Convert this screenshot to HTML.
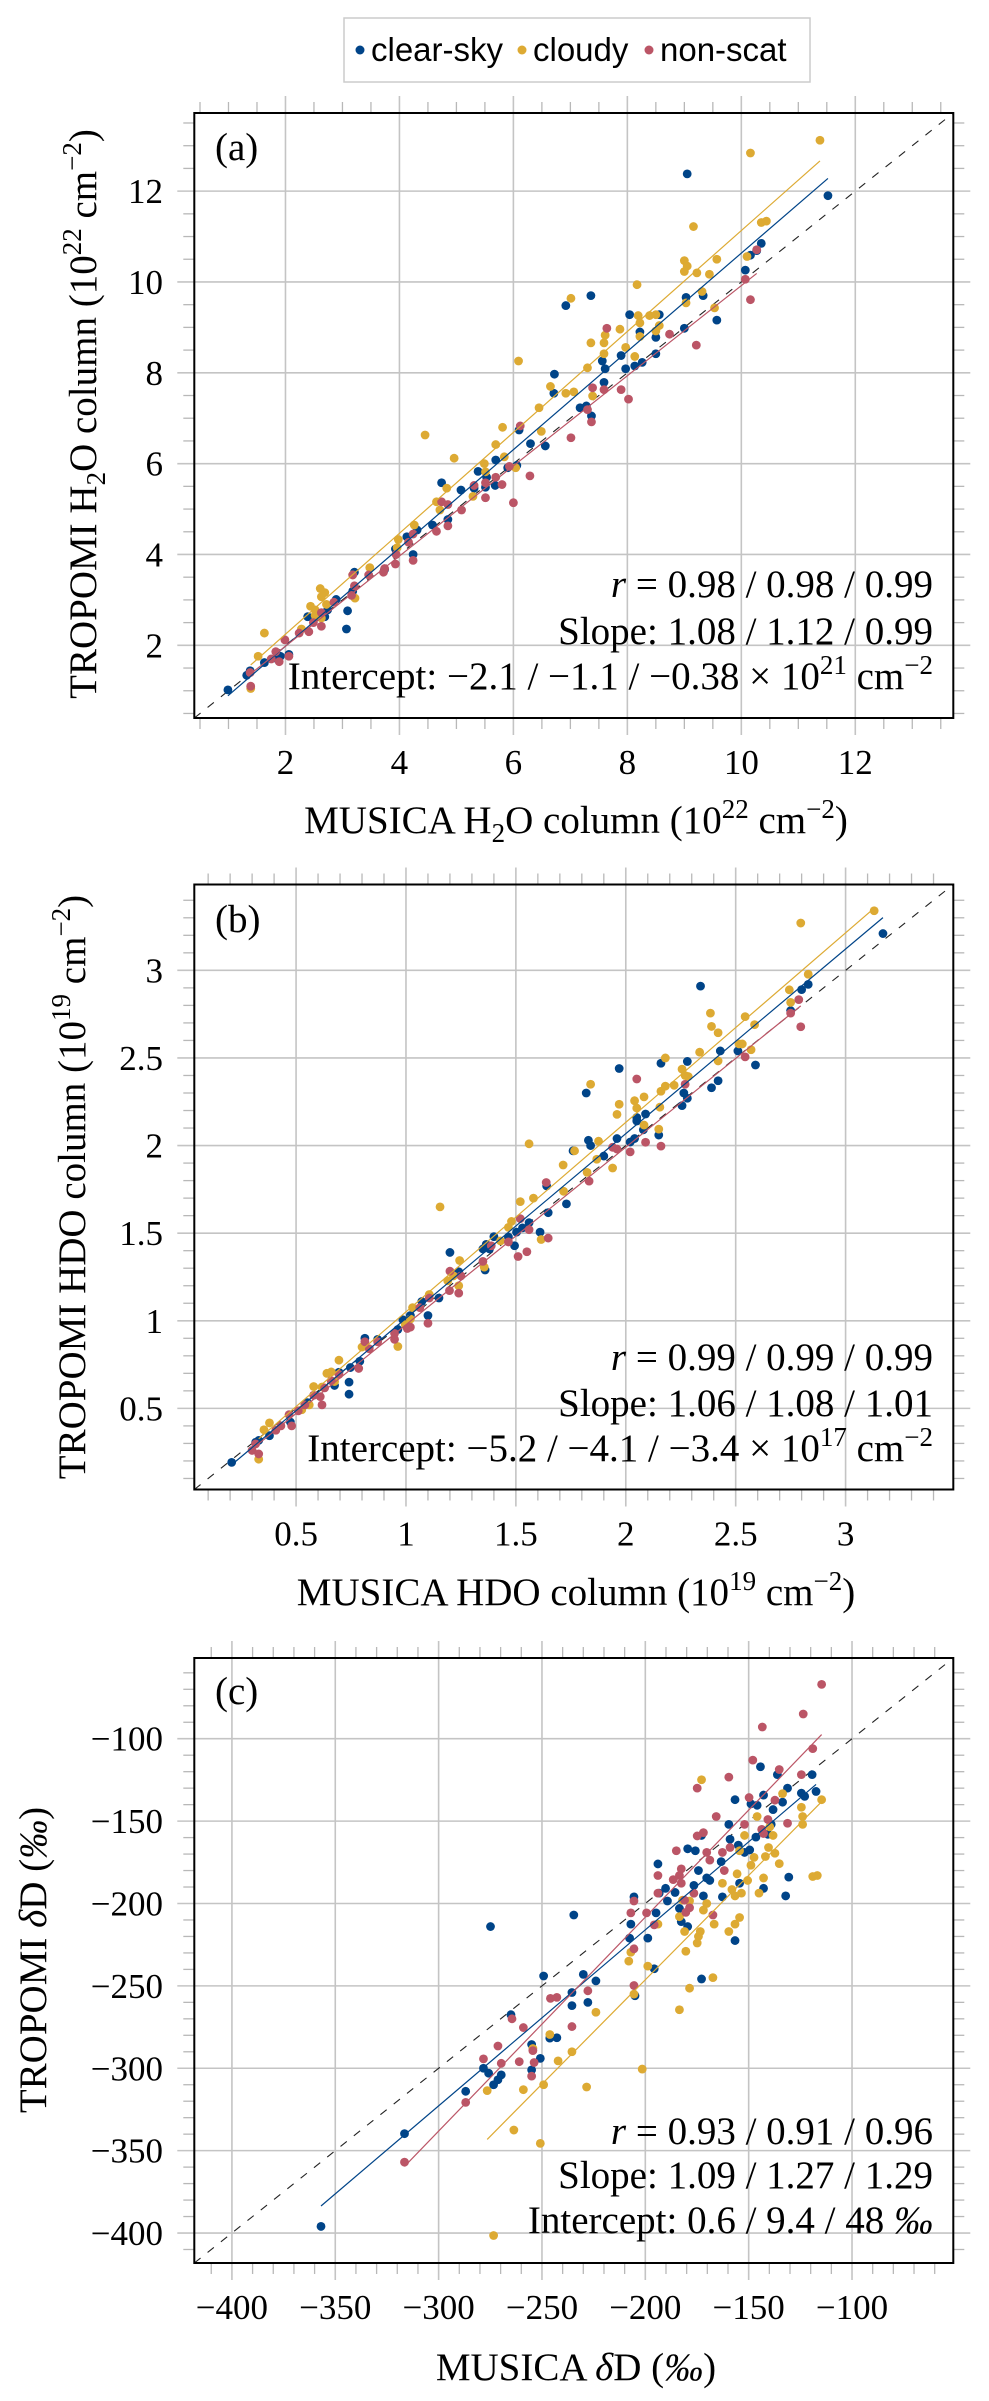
<!DOCTYPE html>
<html><head><meta charset="utf-8"><style>
html,body{margin:0;padding:0;background:#fff;}
svg{display:block;}
text{font-family:"Liberation Serif",serif;fill:#000;}
.tick{font-size:35px;}
.ttl{font-size:39px;}
.ann{font-size:39px;}
.leg{font-family:"Liberation Sans",sans-serif;font-size:33px;}
</style></head><body>
<svg id="fig" width="989" height="2401" viewBox="0 0 989 2401" xmlns="http://www.w3.org/2000/svg">
<g>
<rect x="344" y="18" width="466" height="64" fill="#fff" stroke="#cccccc" stroke-width="1.5"/>
<g><circle cx="360" cy="50" r="4.5" fill="#004488"/><text class="leg" x="371" y="61">clear-sky</text></g>
<g><circle cx="522" cy="50" r="4.5" fill="#DDAA33"/><text class="leg" x="533" y="61">cloudy</text></g>
<g><circle cx="649" cy="50" r="4.5" fill="#BB5566"/><text class="leg" x="660" y="61">non-scat</text></g>
</g>
<g id="pa"></g>
<g id="pb"></g>
<g id="pc"></g>

<!-- panel a -->
<text class="ann" x="215" y="160">(a)</text>
<text class="ann" x="933" y="597" text-anchor="end"><tspan font-style="italic">r</tspan> = 0.98 / 0.98 / 0.99</text>
<text class="ann" x="933" y="644" text-anchor="end">Slope: 1.08 / 1.12 / 0.99</text>
<text class="ann" x="933" y="689" text-anchor="end">Intercept: −2.1 / −1.1 / −0.38 × 10<tspan font-size="27" dy="-15">21</tspan><tspan dy="15"> cm</tspan><tspan font-size="27" dy="-15">−2</tspan></text>
<text class="ttl" x="576" y="833" text-anchor="middle">MUSICA H<tspan font-size="27" dy="9">2</tspan><tspan dy="-9">O column (10</tspan><tspan font-size="27" dy="-15">22</tspan><tspan dy="15"> cm</tspan><tspan font-size="27" dy="-15">−2</tspan><tspan dy="15">)</tspan></text>
<text class="ttl" transform="translate(96,414) rotate(-90)" text-anchor="middle">TROPOMI H<tspan font-size="27" dy="9">2</tspan><tspan dy="-9">O column (10</tspan><tspan font-size="27" dy="-15">22</tspan><tspan dy="15"> cm</tspan><tspan font-size="27" dy="-15">−2</tspan><tspan dy="15">)</tspan></text>

<!-- panel b -->
<text class="ann" x="215" y="932">(b)</text>
<text class="ann" x="933" y="1370" text-anchor="end"><tspan font-style="italic">r</tspan> = 0.99 / 0.99 / 0.99</text>
<text class="ann" x="933" y="1416" text-anchor="end">Slope: 1.06 / 1.08 / 1.01</text>
<text class="ann" x="933" y="1461" text-anchor="end">Intercept: −5.2 / −4.1 / −3.4 × 10<tspan font-size="27" dy="-15">17</tspan><tspan dy="15"> cm</tspan><tspan font-size="27" dy="-15">−2</tspan></text>
<text class="ttl" x="576" y="1605" text-anchor="middle">MUSICA HDO column (10<tspan font-size="27" dy="-15">19</tspan><tspan dy="15"> cm</tspan><tspan font-size="27" dy="-15">−2</tspan><tspan dy="15">)</tspan></text>
<text class="ttl" transform="translate(85,1187) rotate(-90)" text-anchor="middle">TROPOMI HDO column (10<tspan font-size="27" dy="-15">19</tspan><tspan dy="15"> cm</tspan><tspan font-size="27" dy="-15">−2</tspan><tspan dy="15">)</tspan></text>

<!-- panel c -->
<text class="ann" x="215" y="1704">(c)</text>
<text class="ann" x="933" y="2144" text-anchor="end"><tspan font-style="italic">r</tspan> = 0.93 / 0.91 / 0.96</text>
<text class="ann" x="933" y="2188" text-anchor="end">Slope: 1.09 / 1.27 / 1.29</text>
<text class="ann" x="933" y="2233" text-anchor="end">Intercept: 0.6 / 9.4 / 48 <tspan font-style="italic">‰</tspan></text>
<text class="ttl" x="576" y="2380" text-anchor="middle">MUSICA <tspan font-style="italic">δ</tspan>D (<tspan font-style="italic">‰</tspan>)</text>
<text class="ttl" transform="translate(46,1960) rotate(-90)" text-anchor="middle">TROPOMI <tspan font-style="italic">δ</tspan>D (<tspan font-style="italic">‰</tspan>)</text>
</svg>
<script>
// ---------- Panel (a) H2O data ----------
const aClearX=[0.99,1.32,1.38,1.63,1.86,1.91,2.06,2.39,2.69,2.74,2.89,3.09,3.07,3.18,3.21,3.74,3.93,4.24,4.13,4.31,4.58,4.74,4.85,5.08,5.31,5.38,5.51,5.69,5.53,5.68,5.9,6.06,6.1,6.3,6.56,6.72,6.71,6.92,7.17,7.28,7.36,7.37,7.56,7.59,7.61,7.89,7.97,8.04,8.13,8.22,8.26,8.5,8.5,8.56,9.0,9.03,9.05,9.33,9.57,10.07,10.16,10.27,10.35,11.52];
const aClearY=[1.02,1.34,1.44,1.62,1.70,1.76,1.8,2.63,2.63,2.78,3.01,2.76,2.36,3.19,3.61,3.67,4.12,4.0,4.39,4.54,4.65,5.58,4.77,5.42,5.46,5.83,5.48,6.08,5.70,5.52,5.91,5.96,6.74,6.44,6.39,7.97,7.55,9.48,7.23,7.27,9.70,7.05,8.26,7.79,8.09,8.38,8.09,9.28,8.15,8.9,8.23,8.42,8.78,9.28,8.98,9.66,12.38,9.70,9.16,10.26,10.59,10.69,10.85,11.9];
const aCloudX=[1.39,1.52,1.63,2.28,2.44,2.52,2.61,2.63,2.69,2.72,2.63,2.52,3.18,3.22,3.48,3.98,3.96,4.26,4.45,4.65,4.71,4.83,4.96,5.29,5.49,5.51,5.69,5.81,5.84,6.04,6.09,6.49,6.45,6.65,6.92,7.01,7.06,7.30,7.36,7.39,7.59,7.61,7.59,7.87,7.97,8.13,8.17,8.19,8.22,8.22,8.39,8.5,8.5,8.56,9.0,9.0,9.05,9.03,9.16,9.22,9.31,9.44,9.53,9.57,10.1,10.16,10.35,10.44,11.38];
const aCloudY=[1.05,1.76,2.27,2.36,2.86,2.78,3.25,3.07,3.16,2.9,2.6,2.66,3.55,3.04,3.71,4.33,4.15,4.65,6.63,5.16,4.98,5.46,6.12,5.28,6.0,5.82,6.42,6.8,6.15,5.91,8.26,6.71,7.23,7.70,7.55,9.64,7.58,8.11,8.66,7.49,8.66,8.83,8.42,8.96,8.56,8.36,9.94,9.26,9.1,8.8,9.26,9.28,8.92,9.04,10.47,10.23,10.35,9.54,11.22,10.2,9.79,10.17,9.43,10.5,10.56,12.84,11.31,11.34,13.12];
const aNonX=[1.38,1.39,1.75,1.83,1.89,1.99,2.06,2.24,2.41,2.49,2.63,2.63,2.85,3.16,3.21,3.18,3.46,3.72,3.74,3.93,3.94,4.16,4.24,4.24,4.65,4.74,4.85,4.85,5.09,5.31,5.51,5.51,5.69,5.80,5.93,6.0,6.12,6.29,7.01,7.30,7.39,7.37,7.59,7.64,7.89,8.02,8.74,9.21,10.07,10.16,10.27];
const aNonY=[1.4,1.1,1.70,1.86,1.64,2.12,1.76,2.27,2.3,2.5,2.42,2.72,2.95,3.1,3.31,3.55,3.55,3.61,3.69,3.79,4.0,4.27,4.45,3.87,4.51,5.16,5.1,4.63,4.98,5.52,5.25,5.58,5.70,5.54,5.94,5.14,6.83,5.73,6.57,7.19,7.67,6.92,7.63,8.98,7.63,7.42,8.85,8.61,10.06,9.61,10.71];
const aTicks=[2,4,6,8,10,12];
const aTickLabels=["2","4","6","8","10","12"];

// ---------- Panel (b) HDO data ----------
const bClearX=[0.207,0.316,0.33,0.379,0.474,0.552,0.675,0.695,0.741,0.741,0.747,0.79,0.813,0.871,0.963,0.986,1.02,1.072,1.1,1.15,1.2,1.24,1.35,1.365,1.38,1.40,1.36,1.466,1.494,1.503,1.53,1.56,1.61,1.647,1.64,1.73,1.76,1.82,1.83,1.84,1.9,1.96,1.97,2.02,2.04,2.05,2.05,2.08,2.09,2.15,2.16,2.256,2.264,2.28,2.28,2.34,2.39,2.42,2.43,2.51,2.59,2.75,2.8,2.83,3.17];
const bClearY=[0.192,0.306,0.317,0.344,0.422,0.533,0.631,0.706,0.65,0.581,0.733,0.769,0.9,0.894,0.95,1.006,1.03,1.11,1.03,1.13,1.39,1.28,1.41,1.436,1.41,1.48,1.29,1.478,1.428,1.506,1.53,1.56,1.506,1.617,1.77,1.667,1.97,2.3,2.03,2.0,1.94,2.04,2.44,2.02,2.04,2.14,2.16,2.09,2.18,2.06,2.47,2.228,2.3,2.27,2.48,2.91,2.33,2.37,2.54,2.54,2.46,2.77,2.89,2.92,3.21];
const bCloudX=[0.33,0.354,0.379,0.526,0.56,0.58,0.618,0.64,0.66,0.675,0.695,0.8,0.963,0.997,1.03,1.02,1.106,1.155,1.19,1.216,1.244,1.24,1.356,1.43,1.466,1.48,1.52,1.56,1.58,1.615,1.715,1.717,1.767,1.824,1.84,1.868,1.876,1.94,1.96,1.97,2.04,2.05,2.083,2.083,2.15,2.155,2.16,2.18,2.18,2.22,2.256,2.27,2.284,2.336,2.385,2.39,2.42,2.42,2.515,2.53,2.543,2.57,2.586,2.744,2.75,2.796,2.83,3.13];
const bCloudY=[0.21,0.378,0.417,0.492,0.52,0.625,0.622,0.7,0.708,0.653,0.775,0.85,0.853,0.978,1.075,1.01,1.15,1.65,1.228,1.256,1.344,1.2,1.306,1.456,1.533,1.567,1.68,2.01,1.70,1.464,1.889,1.739,1.97,1.847,2.35,1.922,2.025,1.872,2.178,2.236,2.256,2.214,2.117,2.278,2.094,2.219,2.31,2.5,2.339,2.344,2.436,2.4,2.394,2.533,2.756,2.68,2.644,2.483,2.58,2.58,2.736,2.547,2.69,2.889,2.817,3.27,2.978,3.34];
const bNonX=[0.30,0.316,0.33,0.408,0.431,0.468,0.48,0.51,0.54,0.58,0.61,0.618,0.63,0.66,0.695,0.785,0.813,0.833,0.871,0.948,0.948,1.006,1.02,1.063,1.1,1.106,1.198,1.2,1.24,1.25,1.35,1.388,1.466,1.51,1.52,1.55,1.56,1.638,1.647,1.833,1.94,1.96,2.02,2.05,2.09,2.16,2.27,2.543,2.75,2.787,2.796];
const bNonY=[0.26,0.297,0.24,0.375,0.4,0.464,0.4,0.486,0.52,0.575,0.567,0.52,0.617,0.658,0.694,0.728,0.88,0.84,0.88,0.928,0.894,0.956,0.964,1.075,0.986,1.13,1.172,1.283,1.158,1.256,1.339,1.428,1.45,1.367,1.583,1.394,1.52,1.789,1.472,1.797,1.99,1.98,1.964,2.38,2.019,1.997,2.35,2.506,2.756,2.833,2.678];
const bTicks=[0.5,1,1.5,2,2.5,3];
const bTickLabels=["0.5","1","1.5","2","2.5","3"];

// ---------- Panel (c) deltaD data ----------
const cClearX=[-356.9,-316.5,-286.9,-278.3,-275.8,-273.4,-271.3,-269.7,-274.9,-265,-255,-255,-250.8,-249.2,-246.2,-242.8,-235.5,-235.5,-234.6,-230,-227.8,-223.9,-207.6,-207,-205.5,-205,-198.8,-195.7,-194.8,-193.9,-193.3,-190.2,-189.3,-185.6,-183.5,-182.6,-179.5,-179.5,-176.5,-175.8,-174.3,-172.8,-172.8,-171.9,-170.3,-168.8,-163.3,-162.7,-159.6,-159,-156.6,-156.6,-155,-154.4,-152,-149.5,-148.9,-146.5,-145.9,-144.3,-142.8,-142.8,-140.7,-139.1,-138.2,-136.1,-133.6,-131.2,-132.1,-130.6,-124.5,-122.9,-119.3,-117.4];
const cClearY=[-396,-339.7,-314,-300,-303,-310,-307,-304,-214,-267.5,-285.6,-301,-294,-244,-281.7,-281.5,-254,-262,-207,-243,-260,-247,-221,-212.5,-196,-256,-221,-239.6,-205.7,-176,-193.7,-190.8,-198.5,-193.3,-203,-211,-166.8,-214,-189,-168,-180,-158.7,-245.8,-195.4,-184.5,-186,-174.6,-196,-152,-161,-137,-222.5,-164.6,-187.7,-169,-167.5,-139.5,-159.7,-140.4,-117,-134.2,-190.8,-158,-152,-143,-121.8,-138.5,-130,-195.4,-184,-133,-135,-121.8,-132];
const cCloudX=[-273.4,-276.5,-263.6,-259,-254.4,-250.8,-249.2,-246.2,-242.2,-235.5,-228.4,-223.9,-208,-207,-205.5,-201.5,-198.8,-193.9,-183.5,-182,-181,-180.4,-178.6,-178.6,-183.5,-174.9,-174.3,-173.4,-172.8,-171.9,-170.3,-167.3,-166.7,-162.7,-159.6,-158.1,-156.6,-156.6,-155.6,-154.4,-153.5,-154.4,-152,-150.5,-148.9,-147.4,-145.9,-145,-142.8,-141.9,-140.4,-139.8,-138.2,-137.3,-135.2,-133.6,-124.5,-123.9,-123.9,-119,-116.8,-114.7];
const cCloudY=[-401.5,-313.6,-337.5,-313,-288,-345.6,-310,-279.5,-295.5,-290,-311.4,-266,-235,-229.6,-255,-300.5,-238,-212.5,-208,-198,-217,-229,-251.4,-198.5,-264.5,-224,-220,-217,-124.9,-204,-200,-245,-212.5,-187.7,-217,-191.5,-195.4,-212.5,-182,-208.5,-193.7,-168,-158.7,-186,-176.8,-172,-147.2,-193.7,-184.5,-171.5,-166,-153.5,-158.7,-169.5,-175.8,-133.3,-141.6,-147.2,-152,-183.6,-183,-137];
const cNonX=[-316.5,-286.9,-278.3,-271.3,-269.7,-264.5,-259,-255,-254.4,-253.8,-261,-245.9,-242.8,-235.5,-227.8,-205.5,-205.5,-205.5,-207,-199.4,-195.7,-193.9,-193.9,-186.5,-185,-183.5,-182.6,-182.6,-181,-180.4,-178.6,-176.5,-174.9,-174.9,-171.9,-170.3,-168.8,-167.3,-165.7,-162.7,-161.8,-159.6,-159,-152,-149.8,-148,-143.7,-142.8,-143.4,-140.7,-137.3,-135.2,-131.2,-124.5,-123.6,-119,-114.7];
const cNonY=[-357,-320.7,-294.3,-286.5,-297,-270,-275.3,-304.8,-289.3,-296.5,-296,-257.6,-257,-274.7,-253,-227.5,-249.8,-198.5,-205.7,-205.7,-213,-193.7,-183,-185.5,-168,-183,-179,-187.7,-198,-205.4,-202.6,-193.8,-130,-159,-157,-169,-173.7,-207,-147.2,-169,-180,-123.3,-166,-152,-135.7,-113,-155,-157.5,-92.9,-149,-137.3,-118.7,-151.3,-121.8,-85,-106,-67];
const cTicks=[-400,-350,-300,-250,-200,-150,-100];
const cTickLabels=["−400","−350","−300","−250","−200","−150","−100"];

const COL={clear:"#004488",cloudy:"#DDAA33",non:"#BB5566"};
const NS="http://www.w3.org/2000/svg";
function mk(tag,attrs,parent){const e=document.createElementNS(NS,tag);for(const k in attrs)e.setAttribute(k,attrs[k]);parent.appendChild(e);return e;}

function drawPanel(g,cfg){
  const L=194.3,R=953.3,T=cfg.top,B=cfg.top+605;
  const sx=v=>L+(v-cfg.min)/(cfg.max-cfg.min)*(R-L);
  const sy=v=>B-(v-cfg.min)/(cfg.max-cfg.min)*(B-T);
  const start=Math.ceil(cfg.min/cfg.minor-1e-9);
  for(let i=start;i*cfg.minor<=cfg.max+1e-9;i++){
    const v=i*cfg.minor;
    if(cfg.ticks.some(t=>Math.abs(t-v)<1e-6))continue;
    const X=sx(v),Y=sy(v);
    let e;
    e=mk('line',{x1:X,x2:X,y1:T-11,y2:T,stroke:'#b8b8b8','stroke-width':1.3},g);
    
    
    mk('line',{x1:X,x2:X,y1:B,y2:B+11,stroke:'#b8b8b8','stroke-width':1.3},g);
    mk('line',{x1:L-11,x2:L,y1:Y,y2:Y,stroke:'#b8b8b8','stroke-width':1.3},g);
    mk('line',{x1:R,x2:R+11,y1:Y,y2:Y,stroke:'#b8b8b8','stroke-width':1.3},g);
  }
  cfg.ticks.forEach((t,i)=>{
    const X=sx(t),Y=sy(t);
    const gx=mk('line',{x1:X,x2:X,y1:T-17,y2:B+17,stroke:'#c4c4c4','stroke-width':1.6},g);
    
    
    const gy=mk('line',{x1:L-17,x2:R+17,y1:Y,y2:Y,stroke:'#c4c4c4','stroke-width':1.6},g);
    
    
    const tx=mk('text',{x:X,y:B+56,'text-anchor':'middle','class':'tick'},g);
    tx.textContent=cfg.labels[i];
    
    
    const ty=mk('text',{x:163,y:Y+12,'text-anchor':'end','class':'tick'},g);
    ty.textContent=cfg.labels[i];
    
    
  });
  const d=mk('line',{x1:sx(cfg.min),y1:sy(cfg.min),x2:sx(cfg.max),y2:sy(cfg.max),stroke:'#222','stroke-width':1.1,'stroke-dasharray':'8 9'},g);
  
  
  cfg.series.forEach(s=>{
    s.x.forEach((xv,i)=>{
      const c=mk('circle',{cx:sx(xv),cy:sy(s.y[i]),r:4.4,fill:s.color},g);
      
      
    });
  });
  cfg.series.forEach(s=>{
    const n=s.x.length;let mx=0,my=0;
    for(let i=0;i<n;i++){mx+=s.x[i];my+=s.y[i];}mx/=n;my/=n;
    let sxy=0,sxx=0;for(let i=0;i<n;i++){sxy+=(s.x[i]-mx)*(s.y[i]-my);sxx+=(s.x[i]-mx)**2;}
    const b=sxy/sxx,a=my-b*mx;
    const x0=Math.min(...s.x),x1=Math.max(...s.x);
    const l=mk('line',{x1:sx(x0),y1:sy(a+b*x0),x2:sx(x1),y2:sy(a+b*x1),stroke:s.color,'stroke-width':1.2},g);
    
    
  });
  const bx=mk('rect',{x:L,y:T,width:R-L,height:B-T,fill:'none',stroke:'#000','stroke-width':2},g);
  
  
}

drawPanel(document.getElementById('pa'),{top:113,min:0.4,max:13.72,minor:0.5,ticks:aTicks,labels:aTickLabels,
  series:[{x:aClearX,y:aClearY,color:COL.clear,name:'clear-sky'},{x:aCloudX,y:aCloudY,color:COL.cloudy,name:'cloudy'},{x:aNonX,y:aNonY,color:COL.non,name:'non-scat'}]});
drawPanel(document.getElementById('pb'),{top:884.5,min:0.037,max:3.49,minor:0.1,ticks:bTicks,labels:bTickLabels,
  series:[{x:bClearX,y:bClearY,color:COL.clear,name:'clear-sky'},{x:bCloudX,y:bCloudY,color:COL.cloudy,name:'cloudy'},{x:bNonX,y:bNonY,color:COL.non,name:'non-scat'}]});
drawPanel(document.getElementById('pc'),{top:1658,min:-418.2,max:-51,minor:10,ticks:cTicks,labels:cTickLabels,
  series:[{x:cClearX,y:cClearY,color:COL.clear,name:'clear-sky'},{x:cCloudX,y:cCloudY,color:COL.cloudy,name:'cloudy'},{x:cNonX,y:cNonY,color:COL.non,name:'non-scat'}]});
</script>
</body></html>
